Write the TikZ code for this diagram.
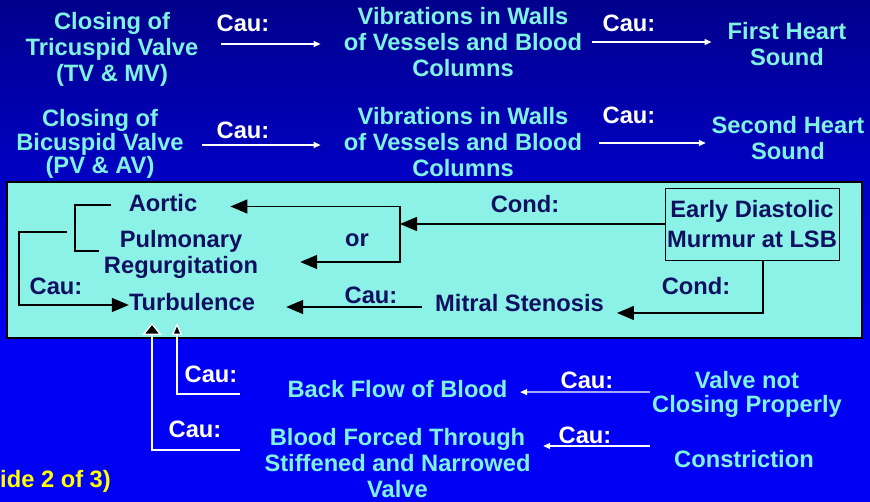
\documentclass[tikz,border=0pt]{standalone}
\usepackage{fontspec}
\setmainfont{Liberation Sans}
\usetikzlibrary{arrows.meta, calc}

\definecolor{slidetop}{RGB}{0,0,140}
\definecolor{slideblue}{RGB}{0,0,245}
\definecolor{tealtext}{RGB}{128,242,226}
\definecolor{boxfill}{RGB}{140,242,232}
\definecolor{navytext}{RGB}{16,16,96}
\definecolor{slideyellow}{RGB}{255,255,0}

\newcommand{\slidefont}{\fontsize{23.7}{26}\selectfont\bfseries}

\tikzset{
  lbl/.style={inner sep=0pt, align=center, font=\slidefont},
  term/.style={lbl, text=tealtext},
  cau/.style={lbl, text=white},
  boxtxt/.style={lbl, text=navytext},
  warr/.style={-{Triangle[length=7pt, width=6pt]}, white, line width=1.2pt},
  barr/.style={-{Triangle[length=17pt, width=14pt]}, black, line width=1.5pt},
  bline/.style={black, line width=1.5pt},
  upwide/.style={-{Triangle[length=12pt, width=19pt, fill=black]}, white, line width=1.3pt},
  upnarrow/.style={-{Triangle[length=12pt, width=10pt, fill=black]}, white, line width=1.3pt},
}

\begin{document}
\begin{tikzpicture}[x=1pt, y=-1pt]
  \useasboundingbox (0,0) rectangle (870,502);
  % slide background and panel
  \shade[top color=slidetop, bottom color=slideblue] (0,0) rectangle (870,340);
  \fill[slideblue] (0,340) rectangle (870,502);
  \draw[black, line width=2.5pt, fill=boxfill] (7,182) rectangle (862,338);

  % heart sounds
  \node[term] (tv) at (112,49) {Closing of\\Tricuspid Valve\\(TV \& MV)};
  \node[term] (vib1) at (463,42.5) {Vibrations in Walls\\of Vessels and Blood\\Columns};
  \node[term] (s1) at (787,44.5) {First Heart\\Sound};
  \node[term] (bv) at (100,144) {Closing of\\[-2pt]Bicuspid Valve\\[-3pt](PV \& AV)};
  \node[term] (vib2) at (463,142.5) {Vibrations in Walls\\of Vessels and Blood\\Columns};
  \node[term] (s2) at (788,138) {Second Heart\\Sound};
  \node[cau] (cau1) at (243,23.5) {Cau:};
  \node[cau] (cau2) at (629,23.5) {Cau:};
  \node[cau] (cau3) at (243,130) {Cau:};
  \node[cau] (cau4) at (629,115) {Cau:};

  \draw[warr] ($(tv.east)+(22.5,-5)$) -- ($(vib1.west)+(-23,1.5)$);
  \draw[warr] ($(vib1.east)+(10,-0.5)$) -- ($(s1.west)+(-16,-2.5)$);
  \draw[warr] ($(bv.east)+(17.7,1)$) -- ($(vib2.west)+(-23,2.5)$);
  \draw[warr] ($(vib2.east)+(17,0.5)$) -- ($(s2.west)+(-5.6,5)$);

  % murmur panel
  \node[boxtxt] (aortic) at (163,203.5) {Aortic};
  \node[boxtxt] (pulm) at (181,254) {Pulmonary\\Regurgitation};
  \node[boxtxt] (orlbl) at (357,240) {or};
  \node[boxtxt] (turb) at (192,302.5) {Turbulence};
  \node[boxtxt] (cau5) at (56,286.5) {Cau:};
  \node[boxtxt] (cau6) at (371,295) {Cau:};
  \node[boxtxt] (cond1) at (525,204) {Cond:};
  \node[boxtxt] (cond2) at (696,286) {Cond:};
  \node[boxtxt] (mitral) at (519.5,303) {Mitral Stenosis};
  \node[boxtxt, draw=black, line width=0.8pt, minimum width=174pt,
        minimum height=72pt] (edm) at (752,224) {Early Diastolic\\[4pt]Murmur at LSB};

  \coordinate (orbar) at (400,224);
  \coordinate (brk) at (67,232);
  \draw[barr] (edm.west) -- (orbar);
  \draw[barr] (orbar) |- ($(aortic.east)+(33,3)$);
  \draw[barr] (orbar) |- ($(pulm.east)+(42,8)$);
  \draw[bline] ($(aortic.west)+(-18,1.5)$) -| ($(pulm.west)+(-29,-3)$)
    -- ($(pulm.west)+(-5,-3)$);
  \draw[barr] (brk) -- ++(-48,0) |- ($(turb.west)+(0,2.5)$);
  \draw[barr] ($(mitral.west)+(-13,4)$) -- ($(turb.east)+(31,4.5)$);
  \draw[barr] ($(edm.south)+(11,0)$) |- ($(mitral.east)+(13,10)$);

  % causes below the panel
  \node[term] (backflow) at (397.5,389.5) {Back Flow of Blood};
  \node[term] (valve) at (747,394) {Valve not\\[-2pt]Closing Properly};
  \node[term] (forced) at (397.5,463.5) {Blood Forced Through\\Stiffened and Narrowed\\Valve};
  \node[term] (constr) at (744,459) {Constriction};
  \node[cau] (cau7) at (211,374) {Cau:};
  \node[cau] (cau8) at (195,429) {Cau:};
  \node[cau] (cau9) at (587,380) {Cau:};
  \node[cau] (cau10) at (585,435) {Cau:};

  \draw[upnarrow] ($(backflow.west)+(-47.5,4.5)$) -| ($(turb.south)+(-15,11.5)$);
  \draw[upwide] ($(forced.west)+(-24.5,-13.5)$) -| ($(turb.south)+(-40,11.5)$);
  \draw[warr] ($(valve.west)+(-2,-2)$) -- ($(backflow.east)+(12.5,2.6)$);
  \draw[warr] ($(constr.west)+(-24,-13)$) -- ($(forced.east)+(12.5,-17.5)$);

  \node[lbl, text=slideyellow, anchor=base west] (slideno) at (0,487) {ide 2 of 3)};
\end{tikzpicture}
\end{document}
